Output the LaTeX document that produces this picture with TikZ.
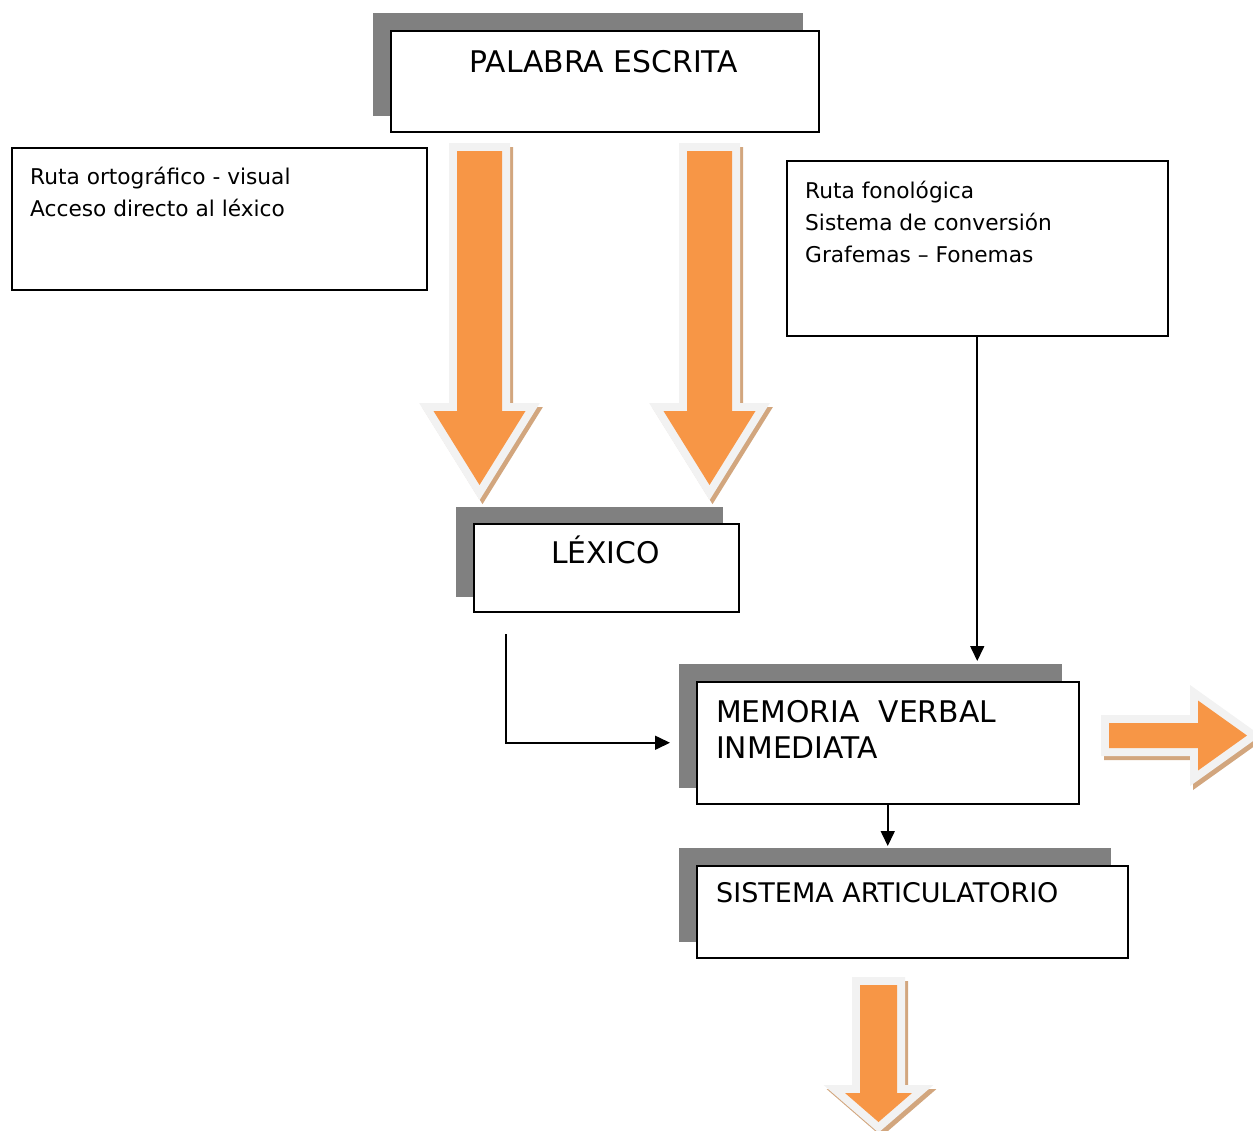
\documentclass[tikz,border=0pt]{standalone}
\usepackage{fontspec}
\setmainfont{DejaVu Sans}
\usetikzlibrary{arrows.meta}
\definecolor{arrorange}{HTML}{F79646}
\definecolor{arrrim}{HTML}{F2F2F2}
\definecolor{arrshadow}{RGB}{210,166,126}
\definecolor{boxshadow}{HTML}{808080}
% vertical fat arrow: cx, top, headbase, tip, shaft half width, head half width
\newcommand\fatdownarrow[6]{%
  \path[fill=arrshadow, draw=arrshadow, line width=16pt, shift={(3,4)}]
    (#1-#5,#2) -- (#1+#5,#2) -- (#1+#5,#3) -- (#1+#6,#3) -- (#1,#4) -- (#1-#6,#3) -- (#1-#5,#3) -- cycle;
  \path[fill=arrorange, preaction={draw=arrrim, line width=16pt}]
    (#1-#5,#2) -- (#1+#5,#2) -- (#1+#5,#3) -- (#1+#6,#3) -- (#1,#4) -- (#1-#6,#3) -- (#1-#5,#3) -- cycle;
}
% horizontal fat arrow: cy, left, headbase, tip, shaft half width, head half width
\newcommand\fatrightarrow[6]{%
  \path[fill=arrshadow, draw=arrshadow, line width=16pt, shift={(3,4)}]
    (#2,#1-#5) -- (#3,#1-#5) -- (#3,#1-#6) -- (#4,#1) -- (#3,#1+#6) -- (#3,#1+#5) -- (#2,#1+#5) -- cycle;
  \path[fill=arrorange, preaction={draw=arrrim, line width=16pt}]
    (#2,#1-#5) -- (#3,#1-#5) -- (#3,#1-#6) -- (#4,#1) -- (#3,#1+#6) -- (#3,#1+#5) -- (#2,#1+#5) -- cycle;
}
\begin{document}
\begin{tikzpicture}[x=1pt,y=-1pt,
  box/.style={draw=black, line width=1.5pt, fill=white, inner sep=0pt, anchor=north west},
  shadowbox/.style={fill=boxshadow, draw=none, inner sep=0pt, anchor=north west},
  smalltxt/.style={anchor=base west, inner sep=0pt, font=\fontsize{21.7}{32}\selectfont},
  bigtxt/.style={anchor=base west, inner sep=0pt, font=\fontsize{29.8}{36}\selectfont},
  midtxt/.style={anchor=base west, inner sep=0pt, font=\fontsize{27}{36}\selectfont},
  conn/.style={draw=black, line width=1.6pt, -{Triangle[length=15pt,width=14pt]}}
]
\useasboundingbox (0,0) rectangle (1253,1130);
\clip (0,0) rectangle (1253,1130);

% PALABRA ESCRITA
\node[shadowbox, minimum width=430pt, minimum height=103pt] (palsh) at (373,13) {};
\node[box, minimum width=428pt, minimum height=101pt] (pal) at (390,30) {};
\node[bigtxt, anchor=base] (paltxt) at (604,72) {PALABRA ESCRITA};

% left info box (anchor = baseline of last line)
\node[box, minimum width=415pt, minimum height=142pt] (orto) at (11,147) {};
\node[smalltxt, align=left] (ortotxt) at (30,216) {Ruta ortográfico - visual\\Acceso directo al léxico};

% right info box
\node[box, minimum width=381pt, minimum height=175pt] (fono) at (786,160) {};
\node[smalltxt, align=left] (fonotxt) at (805,262) {Ruta fonológica\\Sistema de conversión\\Grafemas – Fonemas};

% big arrows
\fatdownarrow{479.5}{151}{411}{485}{22.5}{46}
\fatdownarrow{709.5}{151}{411}{485}{22.5}{46}

% LEXICO
\node[shadowbox, minimum width=267pt, minimum height=90pt] (lexsh) at (456,507) {};
\node[box, minimum width=265pt, minimum height=88pt] (lex) at (473,523) {};
\node[bigtxt, anchor=base] (lextxt) at (605.5,563) {LÉXICO};

% MEMORIA
\node[shadowbox, minimum width=383pt, minimum height=124pt] (memsh) at (679,664) {};
\node[box, minimum width=382pt, minimum height=122pt] (mem) at (696,681) {};
\node[bigtxt, align=left] (memtxt) at (716,758) {MEMORIA\ \ VERBAL\\INMEDIATA};

% SISTEMA
\node[shadowbox, minimum width=432pt, minimum height=94pt] (sissh) at (679,848) {};
\node[box, minimum width=431pt, minimum height=92pt] (sis) at (696,865) {};
\node[midtxt] (sistxt) at (716,902) {SISTEMA ARTICULATORIO};

% right and bottom fat arrows
\fatrightarrow{735.5}{1109}{1198}{1247}{12.5}{35}
\fatdownarrow{878.5}{985}{1093}{1122}{18.5}{33.5}

% connectors
\coordinate (lexout) at (506,634);
\draw[conn, shorten >=26pt] (lexout) |- (mem.west);
\draw[conn, shorten >=20pt] (fono.south) -- (fono.south |- mem.north);
\draw[conn, shorten >=19pt] (mem.south) -- (mem.south |- sis.north);
\end{tikzpicture}
\end{document}
